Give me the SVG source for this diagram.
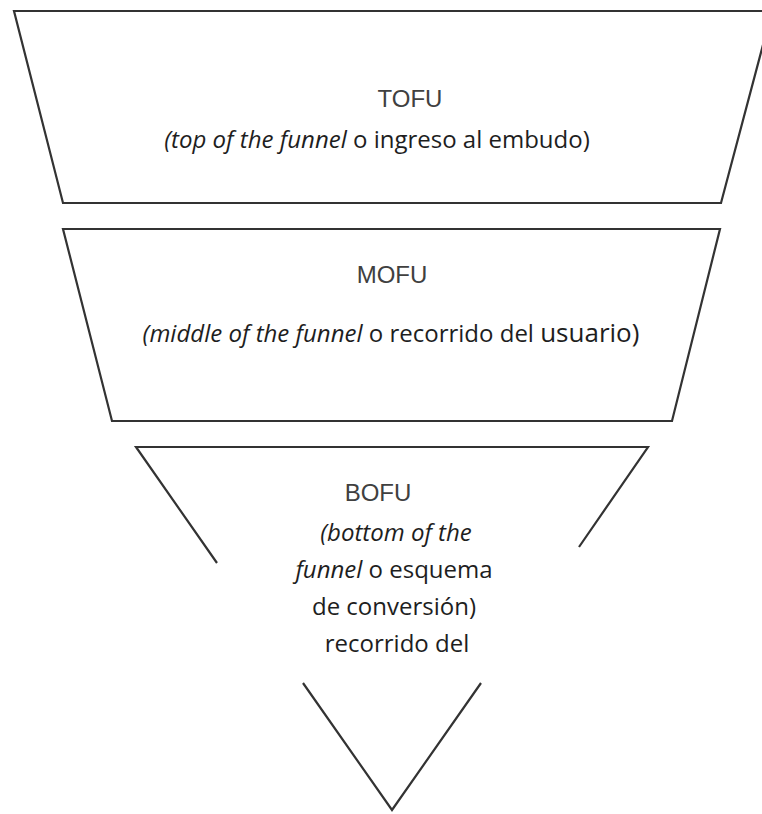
<svg xmlns="http://www.w3.org/2000/svg" width="762" height="814" viewBox="0 0 762 814">
<style>
.shape{fill:#fff;stroke:#333;stroke-width:2.2;stroke-linejoin:miter}
.line{fill:none;stroke:#333;stroke-width:2.2}
.title{font-family:"Liberation Sans",Arial,sans-serif;font-size:24px;fill:#404040;text-anchor:middle}
.body{font-family:"Open Sans","Liberation Sans",sans-serif;font-size:24px;fill:#1e1e1e;text-anchor:middle}
.it{font-style:italic}
</style>
<rect width="762" height="814" fill="#fff"/>
<g id="tofu">
<polygon class="shape" points="14,11 772,11 721,203 63,203"/>
<text class="title" x="410" y="107">TOFU</text>
<text class="body" x="377" y="148"><tspan class="it">(top of the funnel</tspan> o ingreso al embudo)</text>
</g>
<g id="mofu">
<polygon class="shape" points="63,229 720,229 672,421 112,421"/>
<text class="title" x="392" y="283">MOFU</text>
<text class="body" x="391" y="342"><tspan class="it">(middle of the funnel</tspan> o recorrido del <tspan font-size="26">usuario)</tspan></text>
</g>
<g id="bofu">
<path class="line" d="M217,563 L136,447 L648,447 L579,547"/>
<path class="line" d="M303,683 L392,810 L481,683"/>
<text class="title" x="378" y="501">BOFU</text>
<text class="body" x="396" y="541"><tspan class="it">(bottom of the</tspan></text>
<text class="body" x="394" y="578"><tspan class="it">funnel</tspan> o esquema</text>
<text class="body" x="394" y="615">de conversión)</text>
<text class="body" x="397" y="652">recorrido del</text>
</g>
</svg>
